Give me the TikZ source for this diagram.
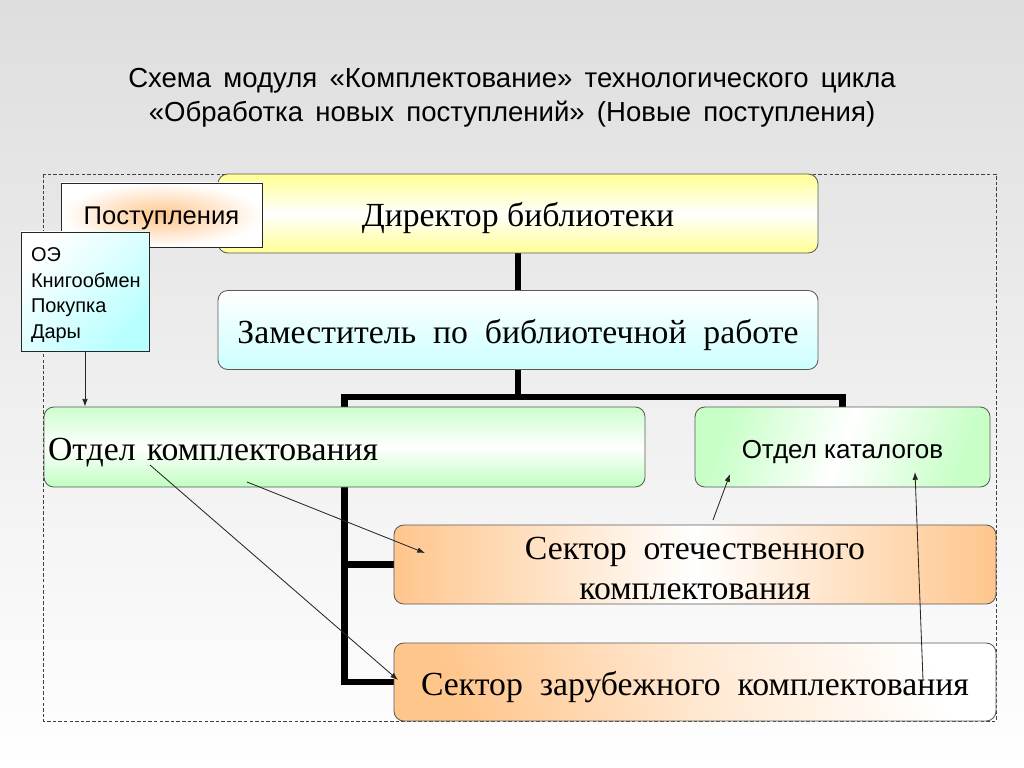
\documentclass[tikz,border=0pt]{standalone}
\usepackage{fontspec}
\setmainfont{Liberation Serif}
\setsansfont{Liberation Sans}
\usepackage{tikz}
\usetikzlibrary{arrows.meta,shapes}
\usetikzlibrary{positioning}
\usetikzlibrary{calc}
\usetikzlibrary{backgrounds}
\tikzset{
    orgbox/.style={draw=black!65, line width=0.6pt, rounded corners=7pt,
        minimum height=1.975cm, inner sep=0.1cm,
        font=\fontsize{24}{28.5}\selectfont},
    lowtext/.style={text height=25pt, text depth=6pt},
    headbox/.style={orgbox, lowtext, minimum width=15cm,
        top color=yellow!42, bottom color=yellow!42, middle color=white},
    deputybox/.style={orgbox, lowtext, minimum width=15cm,
        top color=white, bottom color=cyan!20},
    deptbox/.style={orgbox, lowtext, minimum height=2cm,
        top color=green!20, bottom color=green!25, middle color=white},
    sectorbox/.style={orgbox, minimum width=15.05cm, align=center},
    notebox/.style={draw=black!85, line width=0.6pt, inner sep=0.2cm,
        font=\sffamily\fontsize{14.2}{18.3}\selectfont},
    trunk/.style={draw=black, line width=4.3pt},
    flow/.style={draw=black!85, line width=0.6pt, -{Latex[length=5.5pt,width=4pt]}},
    framebox/.style={draw=black!75, line width=0.5pt, dash pattern=on 2.5pt off 1.5pt},
}

\begin{document}
\begin{tikzpicture}
	\useasboundingbox (0,0) rectangle (25.6,-19.2);
	\begin{scope}[on background layer]
		\fill[top color=black!13, bottom color=white] (0,0) rectangle (25.6,-19.2);
		\draw[framebox] (1.075,-4.35) rectangle (24.9,-18.025);
	\end{scope}
	% title
	\node[align=center, font=\sffamily\fontsize{19.6}{24.2}\selectfont] (title) at (12.8,-2.45)
		{Схема\, модуля\, «Комплектование»\, технологического\, цикла\\
		 «Обработка\, новых\, поступлений»\, (Новые\, поступления)};
	% boxes
	\node[headbox] (dir) at (12.95,-5.3375) {Директор библиотеки};
	\node[deputybox] (dep) at (12.95,-8.25) {Заместитель\ \ по\ \ библиотечной\ \ работе};
	\node[deptbox, text width=14.825cm, align=left] (acq) at (8.6125,-11.175)
		{Отдел комплектования};
	\node[deptbox, minimum width=7.375cm, left color=green!22, right color=green!22,
		middle color=white, shading angle=70, text height=20.5pt, text depth=3.8pt,
		font=\sffamily\fontsize{18.5}{22}\selectfont] (cat) at (21.0625,-11.175) {Отдел каталогов};
	\node[sectorbox, left color=orange!45, right color=orange!45, middle color=white]
		(domsec) at (17.375,-14.1125)
		{\raisebox{-3pt}[\height][\depth]{\parbox{14cm}{\centering Сектор\ \ отечественного\\ комплектования}}};
	\node[sectorbox, lowtext, minimum height=1.95cm, top color=orange!45, bottom color=white,
		middle color=white!60!orange!45, shading angle=110] (forsec) at (17.375,-17.05)
		{Сектор\ \ зарубежного\ \ комплектования};
	\node[notebox, minimum width=5.025cm, minimum height=1.6cm, shading=radial,
		inner color=orange!45, outer color=white, text height=17pt, text depth=3.6pt,
		font=\sffamily\fontsize{18.2}{22}\selectfont] (income) at (4.0375,-5.375) {Поступления};
	\node[notebox, minimum width=3.2cm, minimum height=2.975cm, align=left,
		top color=white, bottom color=cyan!28, shading angle=45] (src) at (2.125,-7.2875)
		{\raisebox{-2.5pt}[\height][\depth]{\parbox{2.7cm}{ОЭ\\Книгообмен\\Покупка\\Дары}}};
	% tree
	\begin{scope}[on background layer]
		\coordinate (j) at ($(dep.south)+(0,-0.675)$);
		\draw[trunk] (dir.south) -- (dep.north);
		\draw[trunk] (dep.south) -- (j);
		\draw[trunk] (cat.north) -- (cat.north |- j) -- (acq.north |- j) |- (forsec.west);
		\draw[trunk] (acq.north |- domsec.west) -- (domsec.west);
	\end{scope}
	% flows
	\coordinate (f1) at (6.175,-12.05);
	\coordinate (t1) at (10.625,-13.825);
	\coordinate (f2) at (3.75,-11.625);
	\coordinate (t2) at (9.95,-17.0);
	\coordinate (f3) at (17.825,-13.0);
	\coordinate (t3) at (18.25,-11.85);
	\coordinate (f4) at (23.075,-17.0);
	\coordinate (t4) at (22.875,-11.8);
	\draw[flow] (src.south) -- (src.south |- acq.north);
	\draw[flow] (f1) -- (t1);
	\draw[flow] (f2) -- (t2);
	\draw[flow] (f3) -- (t3);
	\draw[flow] (f4) -- (t4);
\end{tikzpicture}
\end{document}
